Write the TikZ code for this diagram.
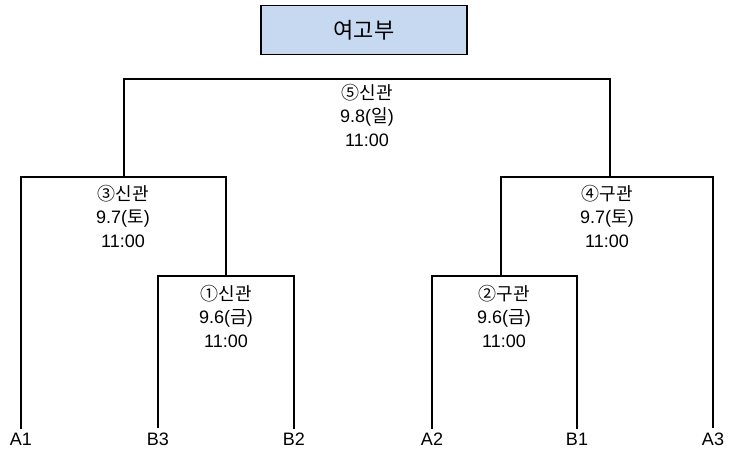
\documentclass[tikz,border=0pt]{standalone}
\usepackage{fontspec}
\setmainfont{Liberation Sans}
\newfontfamily\kr{Noto Sans CJK KR}
\definecolor{titleblue}{HTML}{C6D9F1}
\tikzset{
  titlebox/.style={draw, line width=1.4pt, fill=titleblue, minimum width=206pt, minimum height=49pt, font=\kr\fontsize{22}{24}\selectfont},
  matchinfo/.style={align=center, font=\fontsize{18}{23.5}\selectfont},
  team/.style={font=\fontsize{18}{19}\selectfont, inner sep=4pt},
  bracketline/.style={line width=1.6pt}
}
\begin{document}
\begin{tikzpicture}[x=1pt,y=-1pt]
  \useasboundingbox (0,0) rectangle (729,452);

  % Title
  \node[titlebox] (title) at (364,30) {여고부};

  % Teams
  \node[team] (A1) at (21,439) {A1};
  \node[team] (B3) at (158,439) {B3};
  \node[team] (B2) at (294,439) {B2};
  \node[team] (A2) at (432,439) {A2};
  \node[team] (B1) at (577,439) {B1};
  \node[team] (A3) at (713,439) {A3};

  % Junctions
  \coordinate (m1) at (226,276);
  \coordinate (m2) at (501,276);
  \coordinate (m3) at (124,177);
  \coordinate (m4) at (610,177);
  \coordinate (m5) at (367,79);

  % Brackets
  \draw[bracketline] (B3.north) |- (m1) -| (B2.north);
  \draw[bracketline] (A2.north) |- (m2) -| (B1.north);
  \draw[bracketline] (A1.north) |- (m3) -| (m1);
  \draw[bracketline] (m2) |- (m4) -| (A3.north);
  \draw[bracketline] (m3) |- (m5) -| (m4);

  % Match info
  \node[matchinfo] (t1) at (226,316) {{\kr ①신관}\\9.6({\kr 금})\\11:00};
  \node[matchinfo] (t2) at (504,316) {{\kr ②구관}\\9.6({\kr 금})\\11:00};
  \node[matchinfo] (t3) at (123,216) {{\kr ③신관}\\9.7({\kr 토})\\11:00};
  \node[matchinfo] (t4) at (607,216) {{\kr ④구관}\\9.7({\kr 토})\\11:00};
  \node[matchinfo] (t5) at (367,115) {{\kr ⑤신관}\\9.8({\kr 일})\\11:00};
\end{tikzpicture}
\end{document}
